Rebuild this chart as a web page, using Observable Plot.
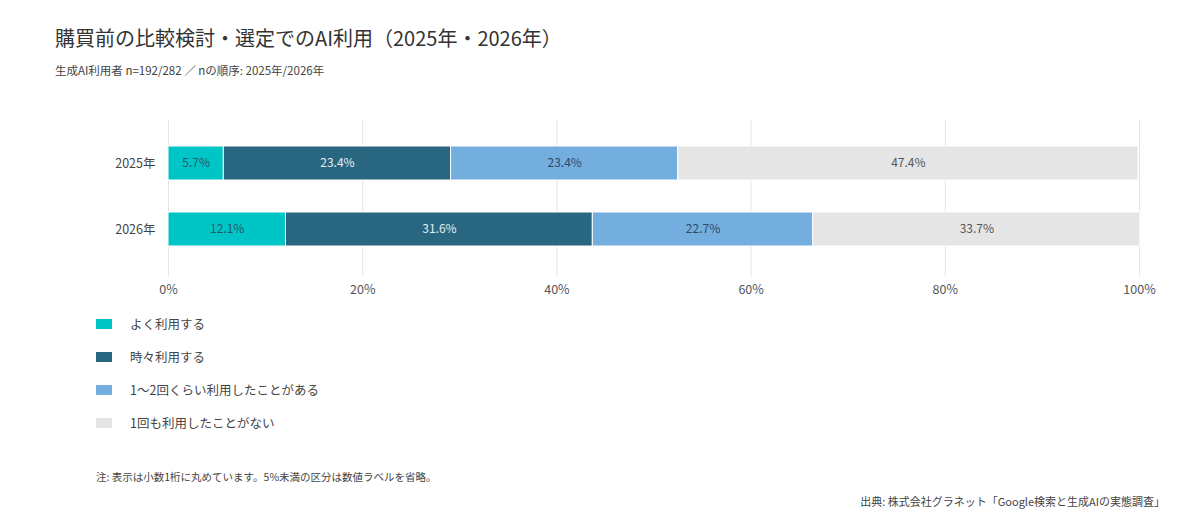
<!DOCTYPE html>
<html><head><meta charset="utf-8">
<script src="https://cdn.jsdelivr.net/npm/d3@7"></script>
<script src="https://cdn.jsdelivr.net/npm/@observablehq/plot@0.6"></script>
<style>
html,body{margin:0;padding:0;background:#fff;}
body{font-family:"Noto Sans CJK JP","Noto Sans",sans-serif;color:#444;}
#wrap{position:relative;width:1200px;height:525px;overflow:hidden;}
.abs{position:absolute;white-space:nowrap;}
#title{left:55px;top:23px;font-size:20px;color:#333;line-height:30px;}
#subtitle{left:55px;top:61px;font-size:11.5px;color:#444;line-height:18px;}
#chart{left:0;top:0;}
#legend{left:96px;top:314px;}
.li{position:absolute;left:0;height:20px;font-size:12.5px;color:#444;line-height:20px;}
.sw{position:absolute;left:0;top:5px;width:16px;height:10px;}
.lt{position:absolute;left:34px;top:0;}
#note{left:96px;top:469px;font-size:10.5px;color:#444;line-height:16px;}
#source{right:35px;top:493px;font-size:11px;color:#444;line-height:16px;}
</style></head>
<body>
<div id="wrap">
  <div id="title" class="abs">購買前の比較検討・選定でのAI利用（2025年・2026年）</div>
  <div id="subtitle" class="abs">生成AI利用者 n=192/282 ／ nの順序: 2025年/2026年</div>
  <div id="chart" class="abs"></div>
  <div id="legend" class="abs"></div>
  <div id="note" class="abs">注: 表示は小数1桁に丸めています。5%未満の区分は数値ラベルを省略。</div>
  <div id="source" class="abs">出典: 株式会社グラネット「Google検索と生成AIの実態調査」</div>
</div>
<script>
const years = ["2025年", "2026年"];
const categories = ["よく利用する", "時々利用する", "1〜2回くらい利用したことがある", "1回も利用したことがない"];
const values2025 = [5.7, 23.4, 23.4, 47.4];
const values2026 = [12.1, 31.6, 22.7, 33.7];
const colors = ["#00C5C7", "#296680", "#74AEDF", "#E5E5E5"];
const labelColors = ["#2b5866", "#e8eef2", "#2f4a66", "#555555"];
const xTicks = [0, 20, 40, 60, 80, 100];

const seriesByYear = [values2025, values2026];
const data = [];
years.forEach((y, i) => categories.forEach((c, j) => data.push({year: y, category: c, value: seriesByYear[i][j]})));

const textMarks = categories.map((c, j) =>
  Plot.textX(data, Plot.filter(d => d.category === c && d.value >= 5,
    Plot.stackX({x: "value", y: "year", text: d => d.value.toFixed(1) + "%", fill: labelColors[j], fontSize: 12})))
);

const chart = Plot.plot({
  width: 1200,
  height: 310,
  marginLeft: 168,
  marginRight: 61,
  marginTop: 120,
  marginBottom: 33,
  style: {fontFamily: '"Noto Sans CJK JP","Noto Sans",sans-serif', fontSize: "13px", color: "#444", background: "transparent"},
  x: {domain: [0, 100], ticks: xTicks},
  y: {domain: years, paddingInner: 0.49, paddingOuter: 0.42, align: 0.46},
  color: {domain: categories, range: colors},
  marks: [
    Plot.gridX(xTicks, {stroke: "#e6e6e6", strokeOpacity: 1}),
    Plot.barX(data, Plot.stackX({x: "value", y: "year", fill: "category", stroke: "#fff", strokeWidth: 1})),
    ...textMarks,
    Plot.axisX(xTicks, {tickSize: 0, tickPadding: 8, tickFormat: d => d + "%", label: null, fill: "#555", fontSize: 12.5}),
    Plot.axisY({tickSize: 0, tickPadding: 13, label: null, fill: "#444", fontSize: 12.5})
  ]
});
document.getElementById("chart").appendChild(chart);

const legend = document.getElementById("legend");
categories.forEach((c, j) => {
  const item = document.createElement("div");
  item.className = "li";
  item.style.top = (j * 33) + "px";
  item.innerHTML = `<div class="sw" style="background:${colors[j]}"></div><div class="lt"></div>`;
  item.querySelector(".lt").textContent = c;
  legend.appendChild(item);
});
</script>
</body></html>
